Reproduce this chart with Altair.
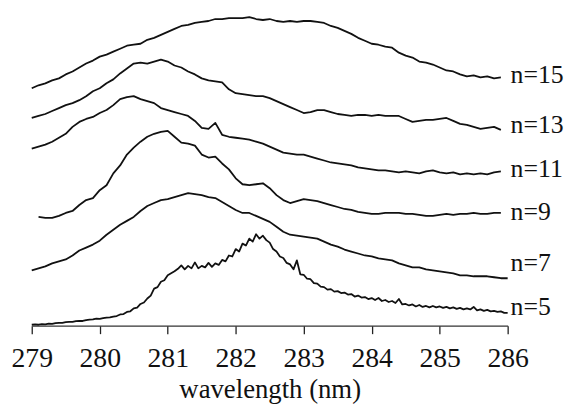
import altair as alt
import pandas as pd

# wavelength grids (nm) and intensities (arbitrary units)
n15_start, n15_step = 279.0, 0.1
n15 = [240, 243, 245, 248, 250, 254, 257, 261, 265, 268,
       272, 274, 277, 280, 283, 284, 285, 289, 291, 294,
       297, 300, 303, 304, 306, 307, 308, 310, 310, 311,
       311, 311, 312, 310, 309, 310, 308, 307, 308, 307,
       308, 308, 307, 306, 303, 301, 298, 295, 291, 288,
       285, 284, 282, 281, 276, 273, 271, 267, 266, 264,
       261, 258, 257, 254, 252, 253, 251, 252, 250, 251]

n13_start, n13_step = 279.0, 0.1
n13 = [210, 212, 214, 217, 220, 223, 225, 228, 232, 237,
       240, 245, 249, 255, 260, 265, 266, 265, 267, 269,
       267, 263, 261, 257, 254, 250, 248, 247, 246, 239,
       235, 234, 233, 232, 232, 230, 227, 224, 221, 218,
       215, 216, 218, 218, 216, 214, 213, 212, 213, 213,
       212, 213, 212, 212, 212, 209, 206, 207, 208, 208,
       209, 210, 207, 204, 203, 201, 199, 200, 201, 198]

n11_start, n11_step = 279.0, 0.1
n11 = [179, 181, 183, 186, 190, 194, 201, 206, 209, 211,
       215, 218, 223, 229, 231, 232, 229, 227, 225, 220,
       218, 216, 214, 212, 207, 200, 199, 205, 193, 191,
       190, 189, 188, 186, 184, 181, 178, 175, 174, 173,
       173, 171, 169, 167, 165, 164, 163, 162, 160, 159,
       158, 157, 157, 156, 155, 156, 155, 154, 156, 157,
       155, 154, 155, 153, 154, 153, 154, 153, 155, 156]

n9_start, n9_step = 279.1, 0.1
n9 = [110, 109, 109, 111, 114, 116, 122, 127, 129, 137,
      142, 154, 162, 173, 180, 186, 191, 194, 196, 197,
      191, 185, 184, 182, 173, 170, 171, 164, 158, 149,
      143, 142, 143, 144, 139, 132, 127, 124, 126, 128,
      127, 126, 124, 122, 120, 118, 117, 115, 114, 113,
      113, 114, 114, 114, 113, 113, 112, 111, 111, 112,
      113, 112, 113, 113, 114, 113, 113, 114, 114]

n7_start, n7_step = 279.0, 0.1
n7 = [56, 58, 60, 63, 65, 67, 71, 76, 79, 82,
      86, 92, 97, 102, 106, 110, 116, 121, 124, 127,
      128, 130, 132, 134, 133, 132, 130, 129, 125, 121,
      117, 114, 114, 111, 108, 105, 100, 95, 92, 91,
      90, 89, 88, 85, 82, 80, 77, 75, 73, 71,
      70, 68, 67, 66, 63, 61, 59, 59, 57, 56,
      55, 54, 53, 51, 51, 50, 50, 50, 49, 48, 48]

n5_start, n5_step = 279.0, 0.05
n5 = [1.0, 1.3, 1.0, 1.6, 1.4, 2.1, 1.8, 2.6, 3.0, 2.8,
      3.6, 4.0, 3.8, 4.6, 5.0, 4.8, 5.6, 6.1, 6.4, 7.2,
      6.9, 7.6, 8.2, 8.4, 9.3, 9.8, 11.4, 11.8, 13.9, 14.6,
      17.5, 18.4, 22.0, 23.5, 27.5, 30.5, 37.5, 39.0, 44.5, 46.0,
      51.0, 53.0, 55.0, 57.5, 61.0, 57.0, 60.5, 58.0, 64.0, 58.0,
      60.5, 59.0, 63.5, 59.5, 63.0, 61.5, 66.5, 65.0, 71.0, 70.0,
      77.5, 75.0, 83.0, 81.0, 88.0, 85.0, 92.5, 88.0, 91.0, 86.5,
      84.0, 77.5, 75.0, 70.0, 68.5, 63.5, 62.0, 57.0, 66.0, 52.0,
      51.5, 47.5, 47.0, 43.0, 42.5, 39.5, 39.0, 36.5, 37.0, 34.5,
      35.0, 33.0, 33.5, 31.5, 32.0, 29.5, 30.5, 28.5, 29.0, 27.0,
      28.0, 26.0, 28.0, 25.0, 26.0, 24.0, 25.0, 23.0, 27.0, 21.5,
      22.0, 20.5, 21.5, 19.5, 21.0, 19.0, 20.0, 18.5, 20.0, 18.5,
      19.5, 18.0, 19.0, 17.5, 18.5, 17.0, 18.0, 16.5, 17.5, 16.5,
      19.0, 15.5, 16.5, 15.0, 16.0, 14.5, 15.0, 14.0, 14.5, 13.0,
      13.0]

series_names = ["n=15", "n=13", "n=11", "n=9", "n=7", "n=5"]
series_data = [(n15_start, n15_step, n15), (n13_start, n13_step, n13),
               (n11_start, n11_step, n11), (n9_start, n9_step, n9),
               (n7_start, n7_step, n7), (n5_start, n5_step, n5)]
line_widths = [1.8, 1.8, 1.8, 1.4, 1.1, 1.9]

label_x = [286.0] * 6
label_v = [245, 195, 150, 107, 55, 11]
x_ticks = [279, 280, 281, 282, 283, 284, 285, 286]

rows = []
for name, (x0, dx, vals) in zip(series_names, series_data):
    for i, v in enumerate(vals):
        rows.append({"series": name, "wl": round(x0 + i * dx, 3), "v": v, "idx": i})
df = pd.DataFrame(rows)
labels = pd.DataFrame({"series": series_names, "wl": label_x, "v": label_v})

FONT = "Liberation Serif"
xscale = alt.Scale(domain=[279, 286], nice=False, zero=False)
yscale = alt.Scale(domain=[0, 319], nice=False, zero=False)

lines = alt.Chart(df).mark_line(color="#111111", interpolate="linear", strokeJoin="round").encode(
    x=alt.X("wl:Q", scale=xscale,
            axis=alt.Axis(values=x_ticks, format="d", title="wavelength (nm)",
                          grid=False, tickSize=8, tickColor="#222222",
                          domainColor="#333333", domainWidth=1.3, tickWidth=1.3,
                          labelFont=FONT, labelFontSize=28, labelColor="#111111",
                          labelPadding=11, labelFlush=False,
                          titleFont=FONT, titleFontSize=27, titleFontWeight="normal",
                          titleColor="#111111", titleY=73, titleBaseline="alphabetic")),
    y=alt.Y("v:Q", scale=yscale, axis=None),
    detail="series:N",
    order="idx:Q",
    strokeWidth=alt.StrokeWidth("series:N", scale=alt.Scale(domain=series_names, range=line_widths),
                                legend=None),
)

text = alt.Chart(labels).mark_text(font=FONT, fontSize=26, align="left",
                                   baseline="alphabetic", dx=3, color="#111111").encode(
    x=alt.X("wl:Q", scale=xscale),
    y=alt.Y("v:Q", scale=yscale),
    text="series:N",
)

chart = alt.layer(lines, text).properties(
    width=481, height=319,
    autosize=alt.AutoSizeParams(type="none"),
    padding={"left": 24, "top": 0, "right": 62, "bottom": 80},
).configure_view(stroke=None)

chart.save("out.html", embed_options={"renderer": "svg", "actions": False})
